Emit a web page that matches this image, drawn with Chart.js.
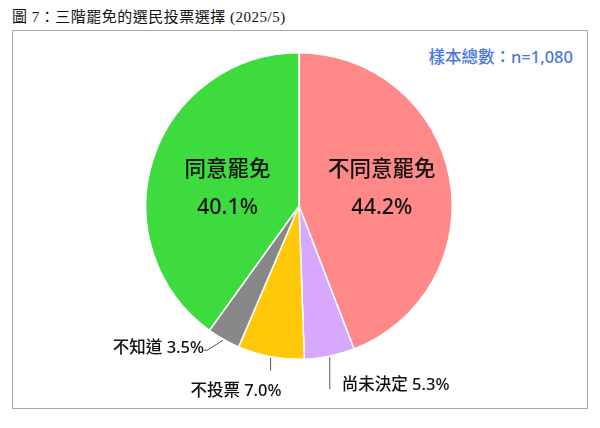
<!DOCTYPE html>
<html lang="zh-Hant">
<head>
<meta charset="UTF-8">
<script src="https://cdn.jsdelivr.net/npm/chart.js"></script>
<style>
  html, body { margin: 0; padding: 0; background: #fff; }
  .page { position: relative; width: 600px; height: 428px; overflow: hidden; }
  .titulo { position: absolute; left: 12px; top: 5px; font: 15px "Liberation Serif", "Noto Sans CJK TC", serif; color: #111; letter-spacing: 0.5px; }
  .caixa { position: absolute; left: 12px; top: 30px; width: 574px; height: 377px; border: 1.5px solid #a6a6a6; }
  .amostra { position: absolute; right: 27px; top: 44px; font: 500 16.5px "Noto Sans", "Noto Sans CJK TC", sans-serif; color: #4a76e0; }
  canvas { position: absolute; left: 0; top: 0; }
</style>
<title>圖 7</title>
</head>
<body>
<div class="page">
  <div class="titulo">圖 7：三階罷免的選民投票選擇 (2025/5)</div>
  <div class="caixa"></div>
  <div class="amostra">樣本總數：n=1,080</div>
  <canvas id="pizza" width="600" height="428"></canvas>
</div>
<script>
  // dados, sentido horario a partir do topo
  var categorias = ['不同意罷免', '尚未決定', '不投票', '不知道', '同意罷免'];
  var valores = [44.2, 5.3, 7.0, 3.5, 40.1];
  var cores = ['#ff8888', '#d8a8ff', '#ffc90a', '#888888', '#3ddb3d'];

  var fonte = '"Noto Sans", "Noto Sans CJK TC", sans-serif';

  // rotulos: inside = dentro da fatia; os outros tem linha de chamada
  var rotulos = [
    { inside: true, r: 0.55, dy: -17 },
    { lx: 0, ly: 32, align: 'left', tx: 12, ty: -4 },
    { lx: 0, ly: 13, align: 'right', tx: 11, ty: 21 },
    { lx: -16, ly: 10, hx: -3, align: 'right', tx: -3, ty: -2 },
    { inside: true, r: 0.49, dy: -17 }
  ];

  var pluginRotulos = {
    id: 'rotulos',
    afterDatasetsDraw: function (chart) {
      var ctx = chart.ctx;
      var arcos = chart.getDatasetMeta(0).data;
      ctx.save();
      arcos.forEach(function (arco, i) {
        var cfg = rotulos[i];
        var meio = (arco.startAngle + arco.endAngle) / 2;
        var texto = valores[i].toFixed(1) + '%';
        ctx.fillStyle = '#111';
        ctx.textBaseline = 'middle';
        if (cfg.inside) {
          var x = arco.x + Math.cos(meio) * arco.outerRadius * cfg.r;
          var y = arco.y + cfg.dy;
          ctx.textAlign = 'center';
          ctx.font = '500 21.5px ' + fonte;
          ctx.fillText(categorias[i], x, y - 19);
          ctx.fillText(texto, x, y + 19);
        } else {
          var x0 = arco.x + Math.cos(meio) * (arco.outerRadius + 1);
          var y0 = arco.y + Math.sin(meio) * (arco.outerRadius + 1);
          var x1 = x0 + cfg.lx, y1 = y0 + cfg.ly;
          ctx.strokeStyle = '#555';
          ctx.lineWidth = 1;
          ctx.beginPath();
          ctx.moveTo(x0, y0);
          ctx.lineTo(x1, y1);
          if (cfg.hx) ctx.lineTo(x1 + cfg.hx, y1);
          ctx.stroke();
          ctx.textAlign = cfg.align;
          ctx.font = '500 16.5px ' + fonte;
          ctx.fillText(categorias[i] + ' ' + texto, x1 + cfg.tx, y1 + cfg.ty);
        }
      });
      ctx.restore();
    }
  };

  new Chart(document.getElementById('pizza'), {
    type: 'pie',
    data: {
      labels: categorias,
      datasets: [{
        data: valores,
        backgroundColor: cores,
        borderColor: '#ffffff',
        borderWidth: 1.5
      }]
    },
    options: {
      responsive: false,
      animation: false,
      layout: { padding: { top: 52, bottom: 68, left: 145, right: 147 } },
      plugins: {
        legend: { display: false },
        tooltip: { enabled: false }
      }
    },
    plugins: [pluginRotulos]
  });
</script>
</body>
</html>
